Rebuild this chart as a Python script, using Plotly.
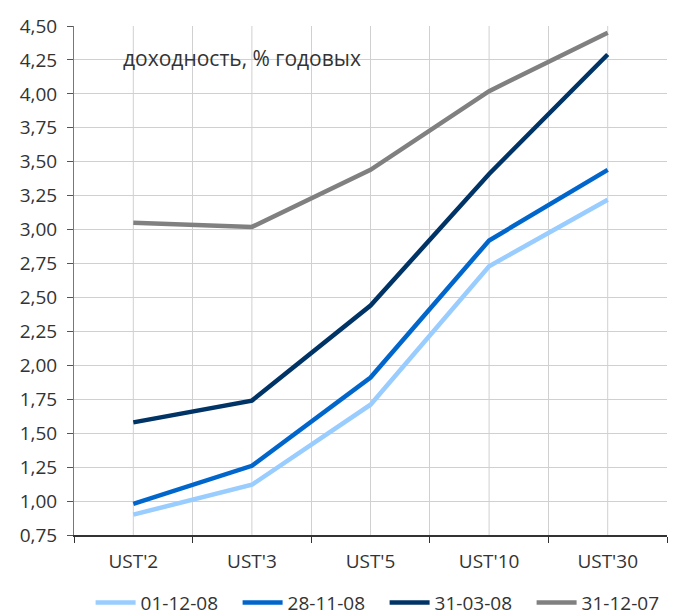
import plotly.graph_objects as go

categories = ["UST'2", "UST'3", "UST'5", "UST'10", "UST'30"]
s_011208 = [0.90, 1.12, 1.71, 2.73, 3.22]
s_281108 = [0.98, 1.26, 1.91, 2.92, 3.44]
s_310308 = [1.58, 1.74, 2.44, 3.41, 4.29]
s_311207 = [3.05, 3.02, 3.44, 4.02, 4.45]
series_names = ["01-12-08", "28-11-08", "31-03-08", "31-12-07"]
y_ticks = [0.75, 1.00, 1.25, 1.50, 1.75, 2.00, 2.25, 2.50, 2.75, 3.00, 3.25, 3.50, 3.75, 4.00, 4.25, 4.50]

colors = ["#99CCFF", "#0066CC", "#003366", "#808080"]
FONT = "Open Sans"

fig = go.Figure()
for name, vals, c in zip(series_names, [s_011208, s_281108, s_310308, s_311207], colors):
    fig.add_trace(go.Scatter(x=categories, y=vals, mode="lines", name=name,
                             line=dict(color=c, width=4.5)))

# centre gridlines for each category
for cat in categories:
    fig.add_shape(type="line", xref="x", yref="paper", x0=cat, x1=cat, y0=0, y1=1,
                  line=dict(color="#D0D0D0", width=1), layer="below")

fig.update_layout(
    width=700, height=616,
    margin=dict(l=66, r=41, t=18, b=89, autoexpand=False),
    paper_bgcolor="white", plot_bgcolor="white",
    separators=",.",
    font=dict(family=FONT, size=19, color="#333333"),
    showlegend=True,
    legend=dict(orientation="h", x=0.028, xanchor="left", y=-0.133, yanchor="middle",
                font=dict(size=19, color="#333333"), entrywidth=92, entrywidthmode="pixels",
                itemwidth=40, tracegroupgap=0, bgcolor="rgba(0,0,0,0)"),
    xaxis=dict(type="category", tickson="boundaries", showgrid=True, gridcolor="#D0D0D0",
               gridwidth=1, ticks="outside", ticklen=6, tickcolor="#333333",
               showline=True, linecolor="#333333", linewidth=1.5, range=[-0.5, 4.5],
               tickfont=dict(size=19), zeroline=False, automargin=False,
               ticklabelstandoff=8),
    yaxis=dict(range=[0.75, 4.5], tickvals=y_ticks, tickformat=".2f", showgrid=True,
               gridcolor="#D0D0D0", gridwidth=1, ticks="outside", ticklen=6,
               tickcolor="#555555", showline=True, linecolor="#777777", linewidth=1,
               tickfont=dict(size=19), zeroline=False, automargin=False,
               ticklabelstandoff=6),
    annotations=[
        dict(text="доходность, % годовых", xref="paper", yref="paper", x=0.079, y=0.937,
             xanchor="left", yanchor="middle", showarrow=False, font=dict(size=21, color="#333333")),
        dict(text="Кривые доходности", xref="paper", yref="paper", x=0.14, y=1.035,
             xanchor="left", yanchor="bottom", showarrow=False, font=dict(size=19, color="#333333")),
    ],
)

fig.write_html("out.html")
